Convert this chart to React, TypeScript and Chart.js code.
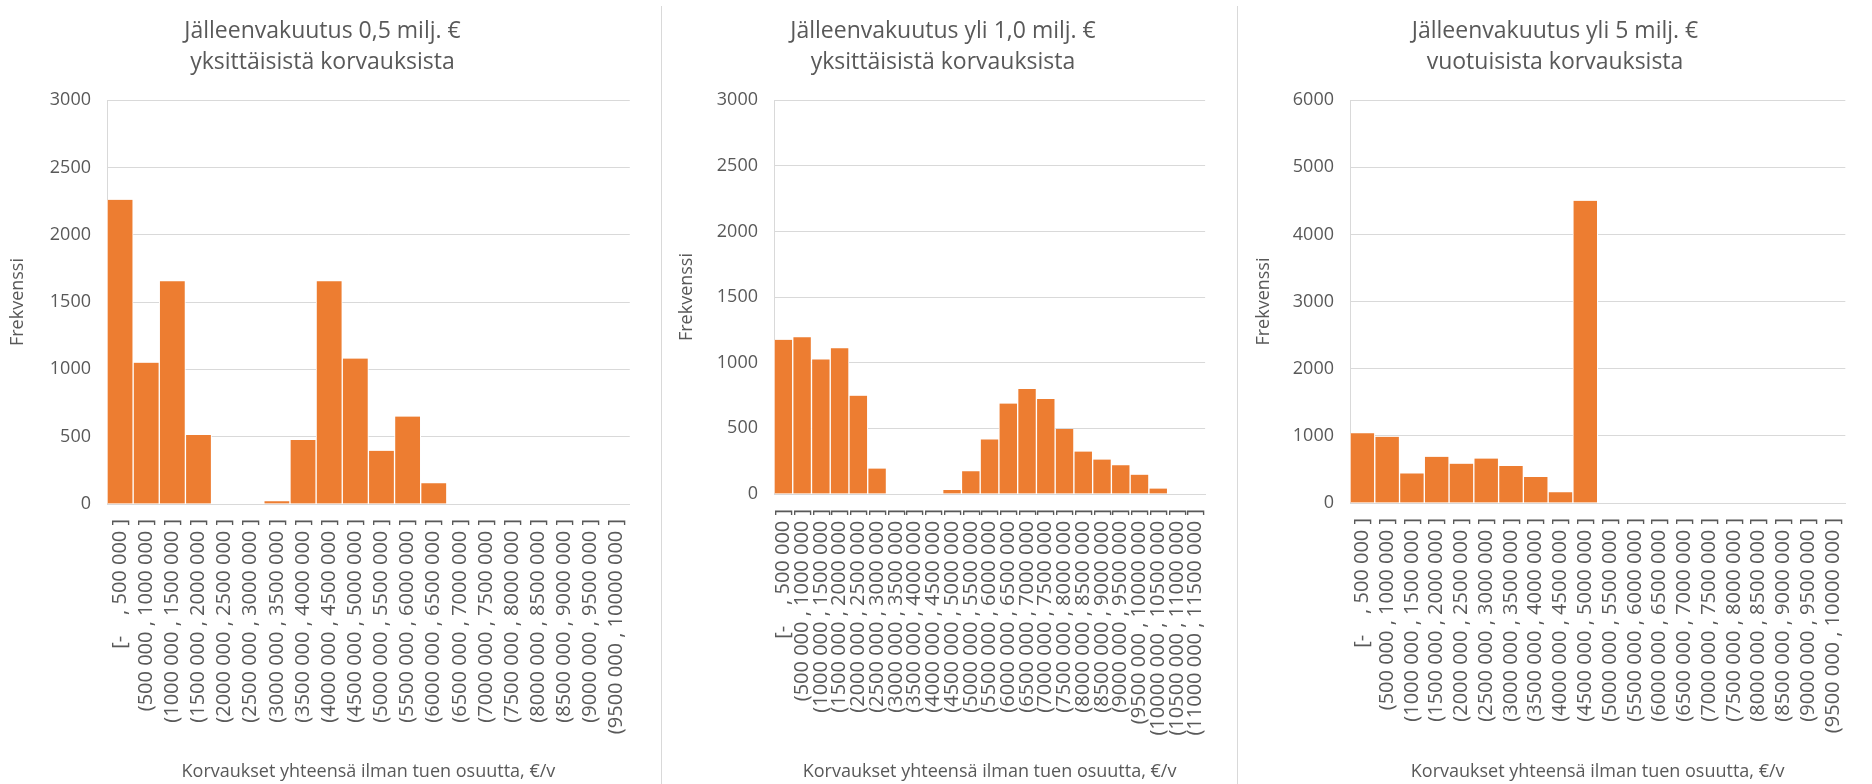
import React, { useEffect, useRef } from "react";
import { Chart, registerables } from "chart.js";

Chart.register(...registerables);

const binLabels20 = [
  "[-    , 500 000 ]",
  "(500 000 , 1000 000 ]",
  "(1000 000 , 1500 000 ]",
  "(1500 000 , 2000 000 ]",
  "(2000 000 , 2500 000 ]",
  "(2500 000 , 3000 000 ]",
  "(3000 000 , 3500 000 ]",
  "(3500 000 , 4000 000 ]",
  "(4000 000 , 4500 000 ]",
  "(4500 000 , 5000 000 ]",
  "(5000 000 , 5500 000 ]",
  "(5500 000 , 6000 000 ]",
  "(6000 000 , 6500 000 ]",
  "(6500 000 , 7000 000 ]",
  "(7000 000 , 7500 000 ]",
  "(7500 000 , 8000 000 ]",
  "(8000 000 , 8500 000 ]",
  "(8500 000 , 9000 000 ]",
  "(9000 000 , 9500 000 ]",
  "(9500 000 , 10000 000 ]",
];

const binLabels23 = [
  ...binLabels20,
  "(10000 000 , 10500 000 ]",
  "(10500 000 , 11000 000 ]",
  "(11000 000 , 11500 000 ]",
];

const freq05 = [2260, 1050, 1655, 512, 0, 0, 20, 475, 1655, 1080, 395, 650, 155, 0, 0, 0, 0, 0, 0, 0];
const freq10 = [1175, 1193, 1025, 1110, 749, 194, 0, 0, 0, 31, 173, 416, 689, 800, 723, 496, 323, 263, 219, 147, 41, 0, 0];
const freq5 = [1038, 987, 441, 687, 586, 662, 551, 386, 160, 4500, 0, 0, 0, 0, 0, 0, 0, 0, 0, 0];

const title05 = ["Jälleenvakuutus 0,5 milj. €", "yksittäisistä korvauksista"];
const title10 = ["Jälleenvakuutus yli 1,0 milj. €", "yksittäisistä korvauksista"];
const title5 = ["Jälleenvakuutus yli 5 milj. €", "vuotuisista korvauksista"];

const yAxisTitle = "Frekvenssi";
const xAxisTitle = "Korvaukset yhteensä ilman tuen osuutta, €/v";

const TEXT = "#595959";
const GRID = "#d9d9d9";
const BAR = "#ED7D31";
const FONT = "'Open Sans', 'Noto Sans', sans-serif";
const H = 784;

type PanelProps = {
  left: number;
  width: number;
  labels: string[];
  values: number[];
  title: string[];
  yMax: number;
  yStep: number;
  yAxisWidth: number;
  xAxisHeight: number;
  rightPad: number;
  yTitlePad: number;
};

function HistPanel(p: PanelProps) {
  const ref = useRef<HTMLCanvasElement>(null);
  useEffect(() => {
    const chart = new Chart(ref.current as HTMLCanvasElement, {
      type: "bar",
      data: {
        labels: p.labels,
        datasets: [
          {
            data: p.values,
            backgroundColor: BAR,
            borderColor: "#ffffff",
            borderWidth: { left: 1, right: 1, top: 0, bottom: 0 },
            borderSkipped: false,
            barPercentage: 1,
            categoryPercentage: 1,
          },
        ],
      },
      options: {
        responsive: false,
        animation: false,
        devicePixelRatio: 1,
        layout: { padding: { left: 0, right: p.rightPad, top: 0, bottom: 0 } },
        plugins: {
          legend: { display: false },
          tooltip: { enabled: false },
          title: {
            display: true,
            text: p.title,
            color: TEXT,
            font: { family: FONT, size: 23, weight: "normal", lineHeight: 1.35 },
            padding: { top: 16, bottom: 22 },
          },
        },
        scales: {
          x: {
            grid: { display: false, drawTicks: false },
            border: { display: true, color: GRID, width: 1 },
            ticks: {
              autoSkip: false,
              minRotation: 90,
              maxRotation: 90,
              padding: 15,
              color: TEXT,
              font: { family: FONT, size: 20 },
            },
            title: {
              display: true,
              text: xAxisTitle,
              color: TEXT,
              font: { family: FONT, size: 18 },
              padding: { top: 4, bottom: 1 },
            },
            afterFit: (scale: any) => {
              scale.height = p.xAxisHeight;
            },
          },
          y: {
            min: 0,
            max: p.yMax,
            grid: { color: GRID, drawTicks: false, lineWidth: 1 },
            border: { display: true, color: GRID, width: 1 },
            ticks: {
              stepSize: p.yStep,
              padding: 16,
              color: TEXT,
              font: { family: FONT, size: 18 },
              callback: (v: any) => String(v),
            },
            title: {
              display: true,
              text: yAxisTitle,
              color: TEXT,
              font: { family: FONT, size: 18 },
              padding: { top: p.yTitlePad, bottom: 0 },
            },
            afterFit: (scale: any) => {
              scale.width = p.yAxisWidth;
            },
          },
        },
      },
    });
    return () => chart.destroy();
  }, []);
  return (
    <canvas
      ref={ref}
      width={p.width}
      height={H}
      style={{ position: "absolute", left: p.left, top: 0, width: p.width, height: H }}
    />
  );
}

export default function App() {
  return (
    <div
      style={{
        position: "fixed",
        left: 0,
        top: 0,
        width: 1872,
        height: H,
        background: "#ffffff",
        overflow: "hidden",
      }}
    >
      <HistPanel
        left={0}
        width={656}
        labels={binLabels20}
        values={freq05}
        title={title05}
        yMax={3000}
        yStep={500}
        yAxisWidth={107}
        xAxisHeight={280}
        rightPad={11}
        yTitlePad={7}
      />
      <div style={{ position: "absolute", left: 661, top: 6, width: 1, height: H - 6, background: GRID }} />
      <HistPanel
        left={663}
        width={572}
        labels={binLabels23}
        values={freq10}
        title={title10}
        yMax={3000}
        yStep={500}
        yAxisWidth={111}
        xAxisHeight={290}
        rightPad={12}
        yTitlePad={13}
      />
      <div style={{ position: "absolute", left: 1237, top: 6, width: 1, height: H - 6, background: GRID }} />
      <HistPanel
        left={1240}
        width={632}
        labels={binLabels20}
        values={freq5}
        title={title5}
        yMax={6000}
        yStep={1000}
        yAxisWidth={110}
        xAxisHeight={281}
        rightPad={2}
        yTitlePad={13}
      />
    </div>
  );
}
